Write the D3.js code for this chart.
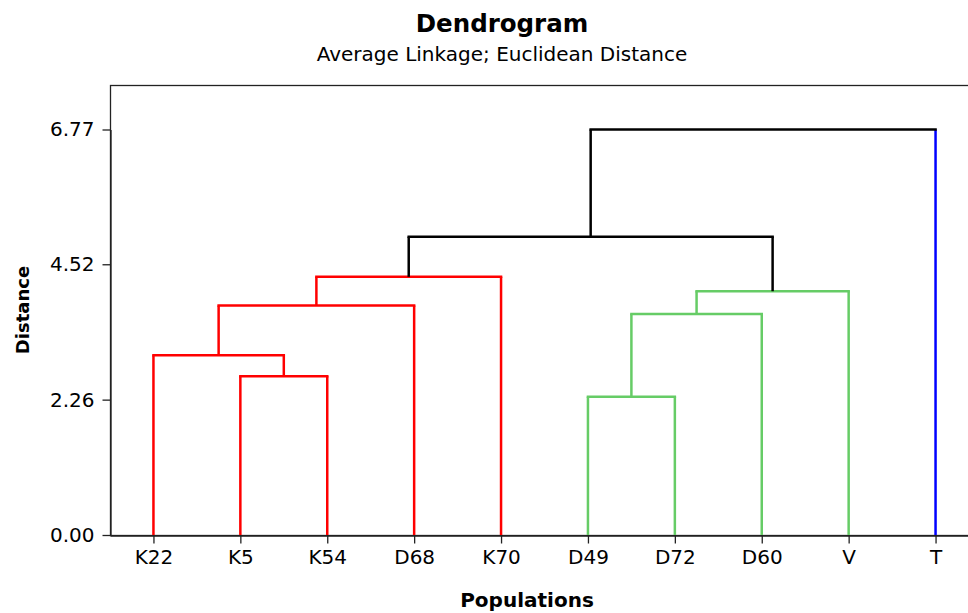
<!DOCTYPE html>
<html>
<head>
<meta charset="utf-8">
<script src="https://cdn.jsdelivr.net/npm/d3@7"></script>
<style>
  body { margin: 0; background: #fff; }
  svg { display: block; font-family: "DejaVu Sans", Verdana, sans-serif; }
</style>
</head>
<body>
<svg id="chart" width="968" height="613"></svg>
<script>
// leaves, left to right
const leaves = ['K22', 'K5', 'K54', 'D68', 'K70', 'D49', 'D72', 'D60', 'V', 'T'];
const leafGroup = ['A', 'A', 'A', 'A', 'A', 'B', 'B', 'B', 'B', 'C'];

// merges: children are leaf names or earlier merge indices
const mergeLeft   = ['K5', 'K22', 1, 2, 'D49', 4, 5, 3, 7];
const mergeRight  = ['K54', 0, 'D68', 'K70', 'D72', 'D60', 'V', 6, 'T'];
const mergeHeight = [2.65, 3.00, 3.83, 4.31, 2.31, 3.69, 4.07, 4.98, 6.77];
const mergeGroup  = ['A', 'A', 'A', 'A', 'B', 'B', 'B', 'top', 'top'];

const yTicks = [0, 2.26, 4.52, 6.77];

const groupColor = { A: '#ff0000', B: '#66cc66', C: '#0000ff', top: '#000000' };

const width = 968, height = 613;
const margin = { top: 85, right: -11, bottom: 78, left: 110 };
const plotBottom = height - margin.bottom;

const svg = d3.select('#chart');

const x = d3.scalePoint()
  .domain(leaves)
  .range([margin.left, width - margin.right])
  .padding(0.5);

const y = d3.scaleLinear()
  .domain([0, 6.77])
  .range([plotBottom, 129.5]);

// titles
svg.append('text')
  .attr('x', 502).attr('y', 32)
  .attr('text-anchor', 'middle')
  .attr('font-size', 24.5).attr('font-weight', 'bold')
  .text('Dendrogram');

svg.append('text')
  .attr('x', 502).attr('y', 61)
  .attr('text-anchor', 'middle')
  .attr('font-size', 20)
  .text('Average Linkage; Euclidean Distance');

// frame
svg.append('rect')
  .attr('x', margin.left + 0.5).attr('y', margin.top + 0.5)
  .attr('width', width - margin.right - margin.left)
  .attr('height', plotBottom - margin.top)
  .attr('fill', 'none')
  .attr('stroke', '#222')
  .attr('stroke-width', 1.3);

// axes
const yAxis = svg.append('g')
  .attr('transform', `translate(${margin.left + 0.5},0)`)
  .call(d3.axisLeft(y).tickValues(yTicks).tickSize(8).tickSizeOuter(0).tickPadding(8).tickFormat(d3.format('.2f')));

const xAxis = svg.append('g')
  .attr('transform', `translate(0,${plotBottom + 0.5})`)
  .call(d3.axisBottom(x).tickSize(8).tickSizeOuter(0).tickPadding(6));

[yAxis, xAxis].forEach(g => {
  g.select('.domain').attr('stroke', '#222').attr('stroke-width', 1.3);
  g.selectAll('.tick line').attr('stroke', '#222').attr('stroke-width', 1.3);
  g.selectAll('.tick text')
    .attr('font-family', '"DejaVu Sans", Verdana, sans-serif')
    .attr('font-size', 20).attr('fill', '#000');
});

// axis titles
svg.append('text')
  .attr('transform', `translate(29,${(margin.top + plotBottom) / 2}) rotate(-90)`)
  .attr('text-anchor', 'middle')
  .attr('font-size', 18).attr('font-weight', 'bold')
  .text('Distance');

svg.append('text')
  .attr('x', 527).attr('y', 607)
  .attr('text-anchor', 'middle')
  .attr('font-size', 20).attr('font-weight', 'bold')
  .text('Populations');

// dendrogram links
const nodePos = [];   // x, height of each merge
function posOf(c) {
  if (typeof c === 'string') return { x: x(c), h: 0, leaf: c };
  return nodePos[c];
}

const links = svg.append('g')
  .attr('fill', 'none')
  .attr('stroke-width', 2.5)
  .attr('stroke-linejoin', 'miter');

mergeHeight.forEach((h, i) => {
  const a = posOf(mergeLeft[i]);
  const b = posOf(mergeRight[i]);
  const col = groupColor[mergeGroup[i]];
  const legColor = p => p.leaf ? groupColor[leafGroup[leaves.indexOf(p.leaf)]] : col;

  links.append('path')
    .attr('d', `M${a.x},${y(a.h)}V${y(h)}`)
    .attr('stroke', legColor(a));
  links.append('path')
    .attr('d', `M${b.x},${y(b.h)}V${y(h)}`)
    .attr('stroke', legColor(b));
  links.append('path')
    .attr('d', `M${a.x},${y(h)}H${b.x}`)
    .attr('stroke', col)
    .attr('stroke-linecap', 'square');

  nodePos[i] = { x: (a.x + b.x) / 2, h: h };
});
</script>
</body>
</html>
